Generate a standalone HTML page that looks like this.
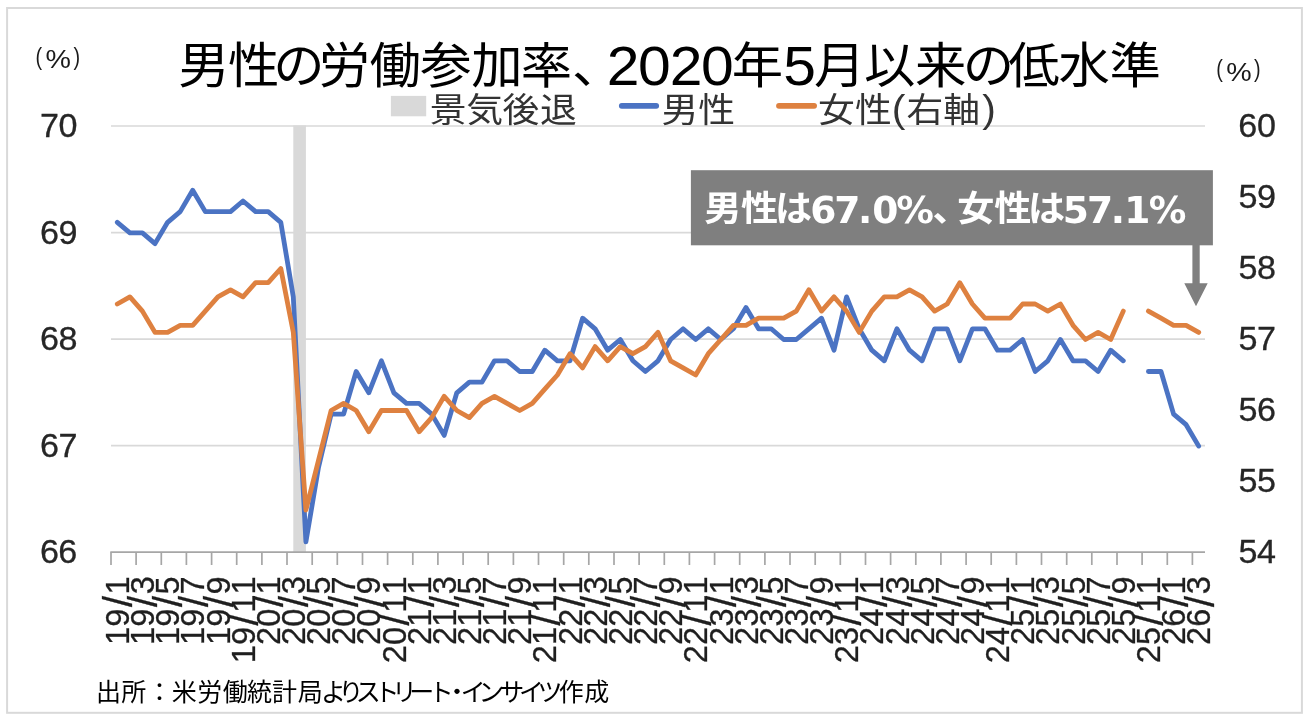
<!DOCTYPE html>
<html lang="ja"><head><meta charset="utf-8"><title>男性の労働参加率</title>
<style>html,body{margin:0;padding:0;background:#fff}svg{display:block}text{font-family:"Liberation Sans","Noto Sans CJK JP",sans-serif;}text.dj,tspan.dj{font-family:"DejaVu Sans","Liberation Sans",sans-serif;}</style></head><body>
<svg width="1312" height="726" viewBox="0 0 1312 726">
<rect width="1312" height="726" fill="#fff"/>
<rect x="7.1" y="8" width="1294.8" height="704.8" fill="#fff" stroke="#D9D9D9" stroke-width="2"/>
<line x1="111.0" x2="1205.0" y1="126.0" y2="126.0" stroke="#D9D9D9" stroke-width="1.7"/>
<line x1="111.0" x2="1205.0" y1="232.6" y2="232.6" stroke="#D9D9D9" stroke-width="1.7"/>
<line x1="111.0" x2="1205.0" y1="339.1" y2="339.1" stroke="#D9D9D9" stroke-width="1.7"/>
<line x1="111.0" x2="1205.0" y1="445.7" y2="445.7" stroke="#D9D9D9" stroke-width="1.7"/>
<rect x="293.3" y="125.4" width="12.6" height="426.8" fill="#D9D9D9"/>
<line x1="110.3" x2="1205.0" y1="552.2" y2="552.2" stroke="#A6A6A6" stroke-width="1.7"/>
<path d="M111.0,552.2v12.8 M136.1,552.2v12.8 M161.3,552.2v12.8 M186.4,552.2v12.8 M211.6,552.2v12.8 M236.7,552.2v12.8 M261.9,552.2v12.8 M287.0,552.2v12.8 M312.2,552.2v12.8 M337.3,552.2v12.8 M362.5,552.2v12.8 M387.6,552.2v12.8 M412.8,552.2v12.8 M437.9,552.2v12.8 M463.1,552.2v12.8 M488.2,552.2v12.8 M513.4,552.2v12.8 M538.5,552.2v12.8 M563.7,552.2v12.8 M588.8,552.2v12.8 M614.0,552.2v12.8 M639.1,552.2v12.8 M664.3,552.2v12.8 M689.4,552.2v12.8 M714.6,552.2v12.8 M739.7,552.2v12.8 M764.9,552.2v12.8 M790.0,552.2v12.8 M815.2,552.2v12.8 M840.3,552.2v12.8 M865.5,552.2v12.8 M890.6,552.2v12.8 M915.8,552.2v12.8 M940.9,552.2v12.8 M966.1,552.2v12.8 M991.2,552.2v12.8 M1016.4,552.2v12.8 M1041.5,552.2v12.8 M1066.7,552.2v12.8 M1091.8,552.2v12.8 M1117.0,552.2v12.8 M1142.1,552.2v12.8 M1167.3,552.2v12.8 M1192.4,552.2v12.8" stroke="#A6A6A6" stroke-width="1.7" fill="none"/>
<path d="M117.3,222.3 L129.9,232.9 L142.4,232.9 L155.0,243.6 L167.6,222.3 L180.2,211.6 L192.7,190.3 L205.3,211.6 L217.9,211.6 L230.5,211.6 L243.0,201.0 L255.6,211.6 L268.2,211.6 L280.8,222.3 L293.3,296.9 L305.9,541.9 L318.5,467.4 L331.1,414.1 L343.6,414.1 L356.2,371.5 L368.8,392.8 L381.4,360.8 L393.9,392.8 L406.5,403.4 L419.1,403.4 L431.7,414.1 L444.2,435.4 L456.8,392.8 L469.4,382.1 L482.0,382.1 L494.5,360.8 L507.1,360.8 L519.7,371.5 L532.3,371.5 L544.8,350.2 L557.4,360.8 L570.0,360.8 L582.6,318.2 L595.1,328.8 L607.7,350.2 L620.3,339.5 L632.9,360.8 L645.4,371.5 L658.0,360.8 L670.6,339.5 L683.1,328.8 L695.7,339.5 L708.3,328.8 L720.9,339.5 L733.4,328.8 L746.0,307.5 L758.6,328.8 L771.2,328.8 L783.7,339.5 L796.3,339.5 L808.9,328.8 L821.5,318.2 L834.0,350.2 L846.6,296.9 L859.2,328.8 L871.8,350.2 L884.3,360.8 L896.9,328.8 L909.5,350.2 L922.1,360.8 L934.6,328.8 L947.2,328.8 L959.8,360.8 L972.4,328.8 L984.9,328.8 L997.5,350.2 L1010.1,350.2 L1022.7,339.5 L1035.2,371.5 L1047.8,360.8 L1060.4,339.5 L1073.0,360.8 L1085.5,360.8 L1098.1,371.5 L1110.7,350.2 L1123.3,360.8 M1148.4,371.5 L1161.0,371.5 L1173.6,414.1 L1186.1,424.7 L1198.7,446.1" fill="none" stroke="#4B73C3" stroke-width="4.8" stroke-linejoin="round" stroke-linecap="round"/>
<path d="M117.3,304.0 L129.9,296.9 L142.4,311.1 L155.0,332.4 L167.6,332.4 L180.2,325.3 L192.7,325.3 L205.3,311.1 L217.9,296.9 L230.5,289.8 L243.0,296.9 L255.6,282.7 L268.2,282.7 L280.8,268.5 L293.3,332.4 L305.9,510.0 L318.5,460.3 L331.1,410.5 L343.6,403.4 L356.2,410.5 L368.8,431.8 L381.4,410.5 L393.9,410.5 L406.5,410.5 L419.1,431.8 L431.7,417.6 L444.2,396.3 L456.8,410.5 L469.4,417.6 L482.0,403.4 L494.5,396.3 L507.1,403.4 L519.7,410.5 L532.3,403.4 L544.8,389.2 L557.4,375.0 L570.0,353.7 L582.6,367.9 L595.1,346.6 L607.7,360.8 L620.3,346.6 L632.9,353.7 L645.4,346.6 L658.0,332.4 L670.6,360.8 L683.1,367.9 L695.7,375.0 L708.3,353.7 L720.9,339.5 L733.4,325.3 L746.0,325.3 L758.6,318.2 L771.2,318.2 L783.7,318.2 L796.3,311.1 L808.9,289.8 L821.5,311.1 L834.0,296.9 L846.6,311.1 L859.2,332.4 L871.8,311.1 L884.3,296.9 L896.9,296.9 L909.5,289.8 L922.1,296.9 L934.6,311.1 L947.2,304.0 L959.8,282.7 L972.4,304.0 L984.9,318.2 L997.5,318.2 L1010.1,318.2 L1022.7,304.0 L1035.2,304.0 L1047.8,311.1 L1060.4,304.0 L1073.0,325.3 L1085.5,339.5 L1098.1,332.4 L1110.7,339.5 L1123.3,311.1 M1148.4,311.1 L1161.0,318.2 L1173.6,325.3 L1186.1,325.3 L1198.7,332.4" fill="none" stroke="#DE8140" stroke-width="4.8" stroke-linejoin="round" stroke-linecap="round"/>
<g fill="#262626" stroke="#262626" stroke-width="0.3"><text transform="scale(1.05,1)" x="38.12 55.61" y="137.0" font-size="32.5">70</text></g>
<g fill="#262626" stroke="#262626" stroke-width="0.3"><text transform="scale(1.05,1)" x="38.00 55.61" y="243.6" font-size="32.5">69</text></g>
<g fill="#262626" stroke="#262626" stroke-width="0.3"><text transform="scale(1.05,1)" x="38.00 55.65" y="350.1" font-size="32.5">68</text></g>
<g fill="#262626" stroke="#262626" stroke-width="0.3"><text transform="scale(1.05,1)" x="38.00 55.65" y="456.7" font-size="32.5">67</text></g>
<g fill="#262626" stroke="#262626" stroke-width="0.3"><text transform="scale(1.05,1)" x="38.00 55.53" y="563.2" font-size="32.5">66</text></g>
<g fill="#262626" stroke="#262626" stroke-width="0.3"><text transform="scale(1.05,1)" x="1179.34 1197.13" y="137.0" font-size="32.5">60</text></g>
<g fill="#262626" stroke="#262626" stroke-width="0.3"><text transform="scale(1.05,1)" x="1179.46 1197.13" y="208.0" font-size="32.5">59</text></g>
<g fill="#262626" stroke="#262626" stroke-width="0.3"><text transform="scale(1.05,1)" x="1179.46 1197.17" y="279.1" font-size="32.5">58</text></g>
<g fill="#262626" stroke="#262626" stroke-width="0.3"><text transform="scale(1.05,1)" x="1179.46 1197.17" y="350.1" font-size="32.5">57</text></g>
<g fill="#262626" stroke="#262626" stroke-width="0.3"><text transform="scale(1.05,1)" x="1179.46 1197.05" y="421.1" font-size="32.5">56</text></g>
<g fill="#262626" stroke="#262626" stroke-width="0.3"><text transform="scale(1.05,1)" x="1179.46 1197.17" y="492.2" font-size="32.5">55</text></g>
<g fill="#262626" stroke="#262626" stroke-width="0.3"><text transform="scale(1.05,1)" x="1179.46 1197.25" y="563.2" font-size="32.5">54</text></g>
<g fill="#1a1a1a"><text transform="scale(0.8,1)" x="44.41" y="64.8" font-size="24.8">(</text><text transform="scale(1.1,1)" x="41.34" y="68.4" font-size="26">%</text><text transform="scale(0.8,1)" x="91.78" y="64.8" font-size="24.8">)</text></g>
<g fill="#1a1a1a"><text transform="scale(0.8,1)" x="1520.23" y="77.0" font-size="24.8">(</text><text transform="scale(1.1,1)" x="1114.66" y="80.60000000000001" font-size="26">%</text><text transform="scale(0.8,1)" x="1567.59" y="77.0" font-size="24.8">)</text></g>
<text transform="translate(128.9,0) rotate(-90)" font-size="32.5" fill="#1f1f1f" stroke="#1f1f1f" stroke-width="0.3"><tspan x="-645.0 -626.8" y="0">19</tspan><tspan x="-607.1" y="3.2" font-size="40.0">/</tspan><tspan x="-594.4" y="0">1</tspan></text>
<text transform="translate(154.0,0) rotate(-90)" font-size="32.5" fill="#1f1f1f" stroke="#1f1f1f" stroke-width="0.3"><tspan x="-645.0 -626.8" y="0">19</tspan><tspan x="-607.1" y="3.2" font-size="40.0">/</tspan><tspan x="-594.3" y="0">3</tspan></text>
<text transform="translate(179.2,0) rotate(-90)" font-size="32.5" fill="#1f1f1f" stroke="#1f1f1f" stroke-width="0.3"><tspan x="-645.0 -626.8" y="0">19</tspan><tspan x="-607.1" y="3.2" font-size="40.0">/</tspan><tspan x="-594.4" y="0">5</tspan></text>
<text transform="translate(204.3,0) rotate(-90)" font-size="32.5" fill="#1f1f1f" stroke="#1f1f1f" stroke-width="0.3"><tspan x="-645.0 -626.8" y="0">19</tspan><tspan x="-607.1" y="3.2" font-size="40.0">/</tspan><tspan x="-594.4" y="0">7</tspan></text>
<text transform="translate(229.5,0) rotate(-90)" font-size="32.5" fill="#1f1f1f" stroke="#1f1f1f" stroke-width="0.3"><tspan x="-645.0 -626.8" y="0">19</tspan><tspan x="-607.1" y="3.2" font-size="40.0">/</tspan><tspan x="-594.5" y="0">9</tspan></text>
<text transform="translate(254.6,0) rotate(-90)" font-size="32.5" fill="#1f1f1f" stroke="#1f1f1f" stroke-width="0.3"><tspan x="-663.3 -645.1" y="0">19</tspan><tspan x="-625.4" y="3.2" font-size="40.0">/</tspan><tspan x="-612.7 -594.4" y="0">11</tspan></text>
<text transform="translate(279.8,0) rotate(-90)" font-size="32.5" fill="#1f1f1f" stroke="#1f1f1f" stroke-width="0.3"><tspan x="-645.0 -626.8" y="0">20</tspan><tspan x="-607.1" y="3.2" font-size="40.0">/</tspan><tspan x="-594.4" y="0">1</tspan></text>
<text transform="translate(304.9,0) rotate(-90)" font-size="32.5" fill="#1f1f1f" stroke="#1f1f1f" stroke-width="0.3"><tspan x="-645.0 -626.8" y="0">20</tspan><tspan x="-607.1" y="3.2" font-size="40.0">/</tspan><tspan x="-594.3" y="0">3</tspan></text>
<text transform="translate(330.1,0) rotate(-90)" font-size="32.5" fill="#1f1f1f" stroke="#1f1f1f" stroke-width="0.3"><tspan x="-645.0 -626.8" y="0">20</tspan><tspan x="-607.1" y="3.2" font-size="40.0">/</tspan><tspan x="-594.4" y="0">5</tspan></text>
<text transform="translate(355.2,0) rotate(-90)" font-size="32.5" fill="#1f1f1f" stroke="#1f1f1f" stroke-width="0.3"><tspan x="-645.0 -626.8" y="0">20</tspan><tspan x="-607.1" y="3.2" font-size="40.0">/</tspan><tspan x="-594.4" y="0">7</tspan></text>
<text transform="translate(380.4,0) rotate(-90)" font-size="32.5" fill="#1f1f1f" stroke="#1f1f1f" stroke-width="0.3"><tspan x="-645.0 -626.8" y="0">20</tspan><tspan x="-607.1" y="3.2" font-size="40.0">/</tspan><tspan x="-594.5" y="0">9</tspan></text>
<text transform="translate(405.5,0) rotate(-90)" font-size="32.5" fill="#1f1f1f" stroke="#1f1f1f" stroke-width="0.3"><tspan x="-663.3 -645.1" y="0">20</tspan><tspan x="-625.4" y="3.2" font-size="40.0">/</tspan><tspan x="-612.7 -594.4" y="0">11</tspan></text>
<text transform="translate(430.7,0) rotate(-90)" font-size="32.5" fill="#1f1f1f" stroke="#1f1f1f" stroke-width="0.3"><tspan x="-645.0 -626.7" y="0">21</tspan><tspan x="-607.1" y="3.2" font-size="40.0">/</tspan><tspan x="-594.4" y="0">1</tspan></text>
<text transform="translate(455.8,0) rotate(-90)" font-size="32.5" fill="#1f1f1f" stroke="#1f1f1f" stroke-width="0.3"><tspan x="-645.0 -626.7" y="0">21</tspan><tspan x="-607.1" y="3.2" font-size="40.0">/</tspan><tspan x="-594.3" y="0">3</tspan></text>
<text transform="translate(481.0,0) rotate(-90)" font-size="32.5" fill="#1f1f1f" stroke="#1f1f1f" stroke-width="0.3"><tspan x="-645.0 -626.7" y="0">21</tspan><tspan x="-607.1" y="3.2" font-size="40.0">/</tspan><tspan x="-594.4" y="0">5</tspan></text>
<text transform="translate(506.1,0) rotate(-90)" font-size="32.5" fill="#1f1f1f" stroke="#1f1f1f" stroke-width="0.3"><tspan x="-645.0 -626.7" y="0">21</tspan><tspan x="-607.1" y="3.2" font-size="40.0">/</tspan><tspan x="-594.4" y="0">7</tspan></text>
<text transform="translate(531.3,0) rotate(-90)" font-size="32.5" fill="#1f1f1f" stroke="#1f1f1f" stroke-width="0.3"><tspan x="-645.0 -626.7" y="0">21</tspan><tspan x="-607.1" y="3.2" font-size="40.0">/</tspan><tspan x="-594.5" y="0">9</tspan></text>
<text transform="translate(556.4,0) rotate(-90)" font-size="32.5" fill="#1f1f1f" stroke="#1f1f1f" stroke-width="0.3"><tspan x="-663.3 -645.0" y="0">21</tspan><tspan x="-625.4" y="3.2" font-size="40.0">/</tspan><tspan x="-612.7 -594.4" y="0">11</tspan></text>
<text transform="translate(581.6,0) rotate(-90)" font-size="32.5" fill="#1f1f1f" stroke="#1f1f1f" stroke-width="0.3"><tspan x="-645.0 -626.7" y="0">22</tspan><tspan x="-607.1" y="3.2" font-size="40.0">/</tspan><tspan x="-594.4" y="0">1</tspan></text>
<text transform="translate(606.7,0) rotate(-90)" font-size="32.5" fill="#1f1f1f" stroke="#1f1f1f" stroke-width="0.3"><tspan x="-645.0 -626.7" y="0">22</tspan><tspan x="-607.1" y="3.2" font-size="40.0">/</tspan><tspan x="-594.3" y="0">3</tspan></text>
<text transform="translate(631.9,0) rotate(-90)" font-size="32.5" fill="#1f1f1f" stroke="#1f1f1f" stroke-width="0.3"><tspan x="-645.0 -626.7" y="0">22</tspan><tspan x="-607.1" y="3.2" font-size="40.0">/</tspan><tspan x="-594.4" y="0">5</tspan></text>
<text transform="translate(657.0,0) rotate(-90)" font-size="32.5" fill="#1f1f1f" stroke="#1f1f1f" stroke-width="0.3"><tspan x="-645.0 -626.7" y="0">22</tspan><tspan x="-607.1" y="3.2" font-size="40.0">/</tspan><tspan x="-594.4" y="0">7</tspan></text>
<text transform="translate(682.2,0) rotate(-90)" font-size="32.5" fill="#1f1f1f" stroke="#1f1f1f" stroke-width="0.3"><tspan x="-645.0 -626.7" y="0">22</tspan><tspan x="-607.1" y="3.2" font-size="40.0">/</tspan><tspan x="-594.5" y="0">9</tspan></text>
<text transform="translate(707.3,0) rotate(-90)" font-size="32.5" fill="#1f1f1f" stroke="#1f1f1f" stroke-width="0.3"><tspan x="-663.3 -645.0" y="0">22</tspan><tspan x="-625.4" y="3.2" font-size="40.0">/</tspan><tspan x="-612.7 -594.4" y="0">11</tspan></text>
<text transform="translate(732.5,0) rotate(-90)" font-size="32.5" fill="#1f1f1f" stroke="#1f1f1f" stroke-width="0.3"><tspan x="-645.0 -626.6" y="0">23</tspan><tspan x="-607.1" y="3.2" font-size="40.0">/</tspan><tspan x="-594.4" y="0">1</tspan></text>
<text transform="translate(757.6,0) rotate(-90)" font-size="32.5" fill="#1f1f1f" stroke="#1f1f1f" stroke-width="0.3"><tspan x="-645.0 -626.6" y="0">23</tspan><tspan x="-607.1" y="3.2" font-size="40.0">/</tspan><tspan x="-594.3" y="0">3</tspan></text>
<text transform="translate(782.8,0) rotate(-90)" font-size="32.5" fill="#1f1f1f" stroke="#1f1f1f" stroke-width="0.3"><tspan x="-645.0 -626.6" y="0">23</tspan><tspan x="-607.1" y="3.2" font-size="40.0">/</tspan><tspan x="-594.4" y="0">5</tspan></text>
<text transform="translate(807.9,0) rotate(-90)" font-size="32.5" fill="#1f1f1f" stroke="#1f1f1f" stroke-width="0.3"><tspan x="-645.0 -626.6" y="0">23</tspan><tspan x="-607.1" y="3.2" font-size="40.0">/</tspan><tspan x="-594.4" y="0">7</tspan></text>
<text transform="translate(833.1,0) rotate(-90)" font-size="32.5" fill="#1f1f1f" stroke="#1f1f1f" stroke-width="0.3"><tspan x="-645.0 -626.6" y="0">23</tspan><tspan x="-607.1" y="3.2" font-size="40.0">/</tspan><tspan x="-594.5" y="0">9</tspan></text>
<text transform="translate(858.2,0) rotate(-90)" font-size="32.5" fill="#1f1f1f" stroke="#1f1f1f" stroke-width="0.3"><tspan x="-663.3 -644.9" y="0">23</tspan><tspan x="-625.4" y="3.2" font-size="40.0">/</tspan><tspan x="-612.7 -594.4" y="0">11</tspan></text>
<text transform="translate(883.4,0) rotate(-90)" font-size="32.5" fill="#1f1f1f" stroke="#1f1f1f" stroke-width="0.3"><tspan x="-645.0 -626.6" y="0">24</tspan><tspan x="-607.1" y="3.2" font-size="40.0">/</tspan><tspan x="-594.4" y="0">1</tspan></text>
<text transform="translate(908.5,0) rotate(-90)" font-size="32.5" fill="#1f1f1f" stroke="#1f1f1f" stroke-width="0.3"><tspan x="-645.0 -626.6" y="0">24</tspan><tspan x="-607.1" y="3.2" font-size="40.0">/</tspan><tspan x="-594.3" y="0">3</tspan></text>
<text transform="translate(933.7,0) rotate(-90)" font-size="32.5" fill="#1f1f1f" stroke="#1f1f1f" stroke-width="0.3"><tspan x="-645.0 -626.6" y="0">24</tspan><tspan x="-607.1" y="3.2" font-size="40.0">/</tspan><tspan x="-594.4" y="0">5</tspan></text>
<text transform="translate(958.8,0) rotate(-90)" font-size="32.5" fill="#1f1f1f" stroke="#1f1f1f" stroke-width="0.3"><tspan x="-645.0 -626.6" y="0">24</tspan><tspan x="-607.1" y="3.2" font-size="40.0">/</tspan><tspan x="-594.4" y="0">7</tspan></text>
<text transform="translate(984.0,0) rotate(-90)" font-size="32.5" fill="#1f1f1f" stroke="#1f1f1f" stroke-width="0.3"><tspan x="-645.0 -626.6" y="0">24</tspan><tspan x="-607.1" y="3.2" font-size="40.0">/</tspan><tspan x="-594.5" y="0">9</tspan></text>
<text transform="translate(1009.1,0) rotate(-90)" font-size="32.5" fill="#1f1f1f" stroke="#1f1f1f" stroke-width="0.3"><tspan x="-663.3 -644.9" y="0">24</tspan><tspan x="-625.4" y="3.2" font-size="40.0">/</tspan><tspan x="-612.7 -594.4" y="0">11</tspan></text>
<text transform="translate(1034.3,0) rotate(-90)" font-size="32.5" fill="#1f1f1f" stroke="#1f1f1f" stroke-width="0.3"><tspan x="-645.0 -626.7" y="0">25</tspan><tspan x="-607.1" y="3.2" font-size="40.0">/</tspan><tspan x="-594.4" y="0">1</tspan></text>
<text transform="translate(1059.4,0) rotate(-90)" font-size="32.5" fill="#1f1f1f" stroke="#1f1f1f" stroke-width="0.3"><tspan x="-645.0 -626.7" y="0">25</tspan><tspan x="-607.1" y="3.2" font-size="40.0">/</tspan><tspan x="-594.3" y="0">3</tspan></text>
<text transform="translate(1084.6,0) rotate(-90)" font-size="32.5" fill="#1f1f1f" stroke="#1f1f1f" stroke-width="0.3"><tspan x="-645.0 -626.7" y="0">25</tspan><tspan x="-607.1" y="3.2" font-size="40.0">/</tspan><tspan x="-594.4" y="0">5</tspan></text>
<text transform="translate(1109.7,0) rotate(-90)" font-size="32.5" fill="#1f1f1f" stroke="#1f1f1f" stroke-width="0.3"><tspan x="-645.0 -626.7" y="0">25</tspan><tspan x="-607.1" y="3.2" font-size="40.0">/</tspan><tspan x="-594.4" y="0">7</tspan></text>
<text transform="translate(1134.9,0) rotate(-90)" font-size="32.5" fill="#1f1f1f" stroke="#1f1f1f" stroke-width="0.3"><tspan x="-645.0 -626.7" y="0">25</tspan><tspan x="-607.1" y="3.2" font-size="40.0">/</tspan><tspan x="-594.5" y="0">9</tspan></text>
<text transform="translate(1160.0,0) rotate(-90)" font-size="32.5" fill="#1f1f1f" stroke="#1f1f1f" stroke-width="0.3"><tspan x="-663.3 -645.0" y="0">25</tspan><tspan x="-625.4" y="3.2" font-size="40.0">/</tspan><tspan x="-612.7 -594.4" y="0">11</tspan></text>
<text transform="translate(1185.2,0) rotate(-90)" font-size="32.5" fill="#1f1f1f" stroke="#1f1f1f" stroke-width="0.3"><tspan x="-645.0 -626.8" y="0">26</tspan><tspan x="-607.1" y="3.2" font-size="40.0">/</tspan><tspan x="-594.4" y="0">1</tspan></text>
<text transform="translate(1210.3,0) rotate(-90)" font-size="32.5" fill="#1f1f1f" stroke="#1f1f1f" stroke-width="0.3"><tspan x="-645.0 -626.8" y="0">26</tspan><tspan x="-607.1" y="3.2" font-size="40.0">/</tspan><tspan x="-594.3" y="0">3</tspan></text>
<text fill="#000" transform="scale(1.06,1)"><tspan x="168.26 215.16 257.76 300.79 348.55 396.46 444.60 491.38 539.54" y="82.8" font-size="48.5">男性の労働参加率、</tspan><tspan x="572.33 601.98 631.77 661.42" y="84.9" font-size="55.5">2020</tspan><tspan x="690.31" y="82.8" font-size="48.5">年</tspan><tspan x="739.03" y="84.9" font-size="55.5">5</tspan><tspan x="767.97 815.16 863.14 908.23 951.25 998.71 1046.65" y="82.8" font-size="48.5">月以来の低水準</tspan></text>
<rect x="390.9" y="95.9" width="35.3" height="20.4" fill="#D9D9D9"/>
<text fill="#333333" transform="scale(1.07,1)" x="401.66 435.78 469.57 504.63" y="121.7" font-size="34.4">景気後退</text>
<line x1="621.8" x2="656.2" y1="105.8" y2="105.8" stroke="#4B73C3" stroke-width="5.8" stroke-linecap="round"/>
<text fill="#333333" transform="scale(1.07,1)" x="618.25 652.53" y="121.7" font-size="34.4">男性</text>
<line x1="779" x2="814.1" y1="105.8" y2="105.8" stroke="#DE8140" stroke-width="5.8" stroke-linecap="round"/>
<text fill="#333333" transform="scale(1.07,1)"><tspan x="764.53 799.17" y="121.7" font-size="34.4">女性</tspan><tspan x="833.37" y="122.0" font-size="38.3">(</tspan><tspan x="847.29 881.54" y="121.7" font-size="34.4">右軸</tspan><tspan x="917.91" y="122.0" font-size="38.3">)</tspan></text>
<rect x="690.9" y="170.2" width="522" height="75.1" fill="#7F7F7F"/>
<path d="M1192.4,245 h7.3 v38.2 h8 l-11.7,23 l-11.7,-23 h8.1 z" fill="#7F7F7F"/>
<g fill="#fff" font-weight="bold"><text transform="scale(1.07,1)" x="658.11 692.53 724.27" y="221.5" font-size="34.7">男性は</text><text x="810.30 834.22 858.06 872.23 896.20" y="223.0" font-size="37.6" class="dj">67.0%</text><text transform="scale(1.07,1)" x="871.61 894.57 929.26 960.86" y="221.5" font-size="34.7">、女性は</text><text x="1062.79 1086.92 1110.76 1124.29 1148.85" y="223.0" font-size="37.6" class="dj">57.1%</text></g>
<text fill="#000"><tspan x="96.04 121.26 146.90 171.87 197.21 222.78 246.93 272.11 297.75" y="701.2" font-size="25.0">出所：米労働統計局</tspan><tspan x="321.05 338.54 355.73 374.48 391.96 409.30 428.78 444.53 460.73 478.59 499.32 519.02 537.43" y="701.2" font-size="25.0">よりストリート・インサイツ</tspan><tspan x="558.70 584.13" y="701.2" font-size="25.0">作成</tspan></text>
</svg></body></html>
